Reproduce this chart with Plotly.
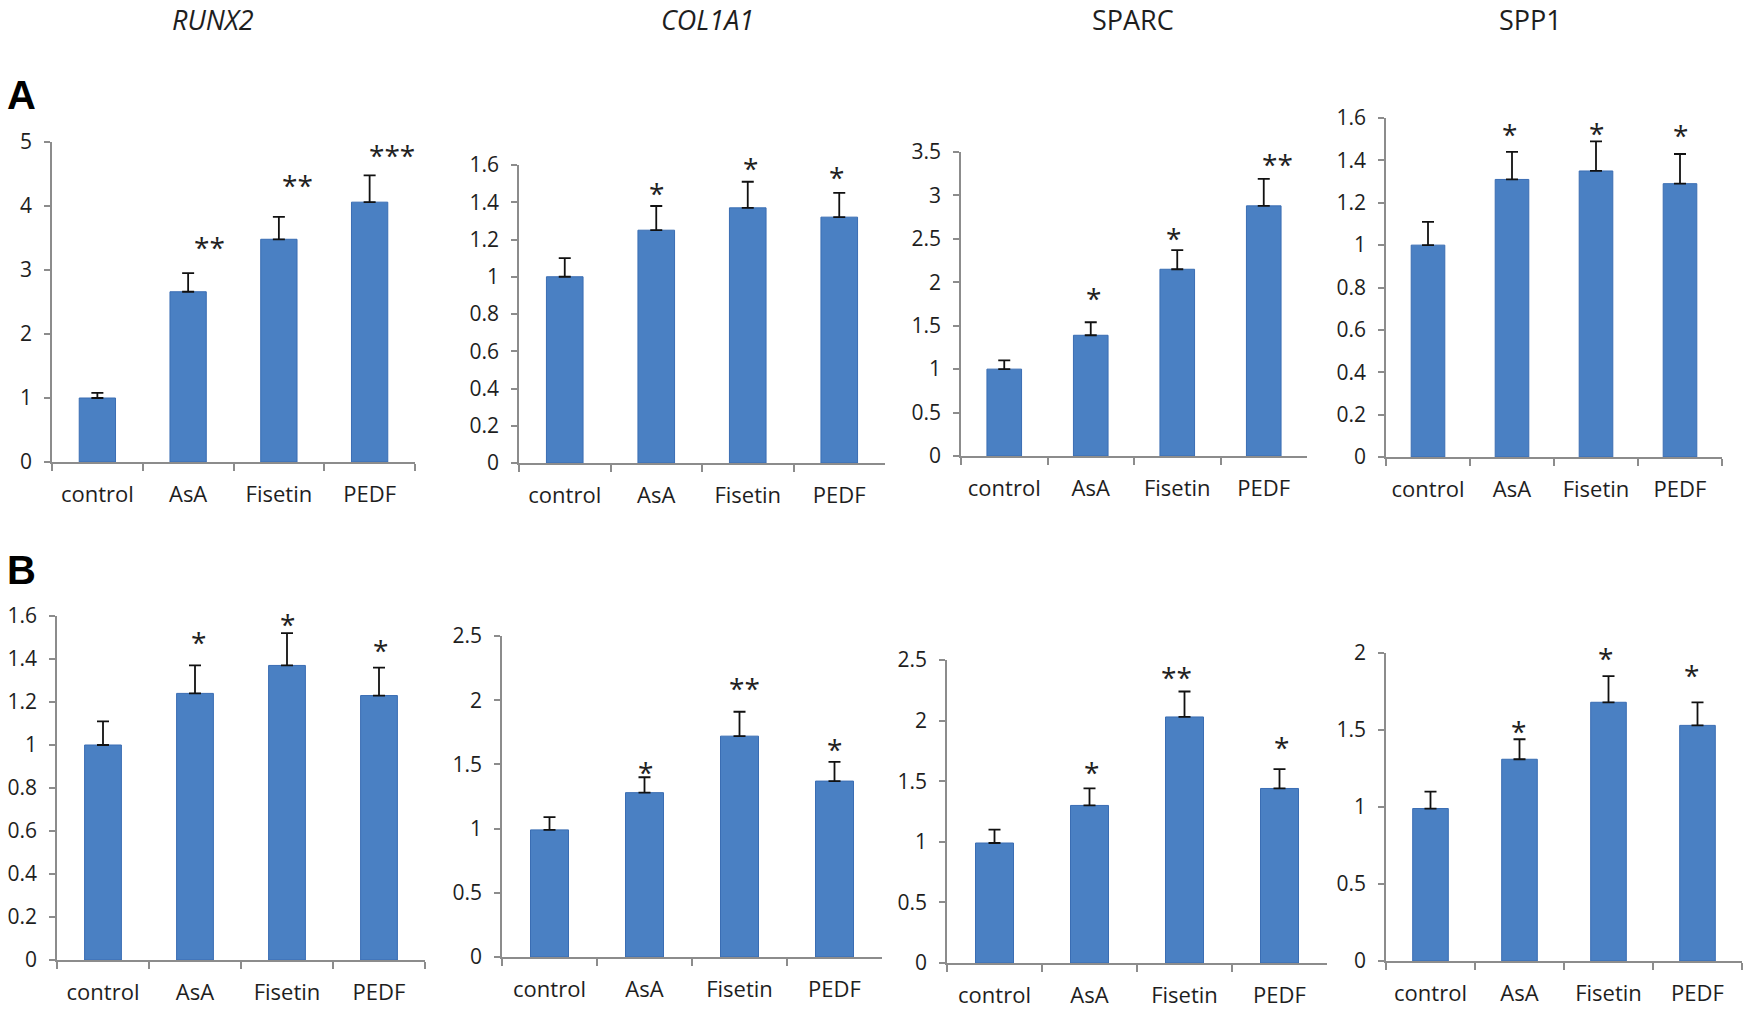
import plotly.graph_objects as go

W, H = 1748, 1009

# ---------------- data ----------------
categories = ["control", "AsA", "Fisetin", "PEDF"]

genes = ["RUNX2", "COL1A1", "SPARC", "SPP1"]
gene_italic = [True, True, False, False]

# Panel A
a_runx2 = [1.00, 2.66, 3.48, 4.06]
a_runx2_err = [0.08, 0.29, 0.35, 0.42]
a_runx2_sig = ["", "**", "**", "***"]

a_col1a1 = [1.00, 1.25, 1.37, 1.32]
a_col1a1_err = [0.10, 0.13, 0.14, 0.13]
a_col1a1_sig = ["", "*", "*", "*"]

a_sparc = [1.00, 1.39, 2.15, 2.88]
a_sparc_err = [0.10, 0.15, 0.22, 0.31]
a_sparc_sig = ["", "*", "*", "**"]

a_spp1 = [1.00, 1.31, 1.35, 1.29]
a_spp1_err = [0.11, 0.13, 0.14, 0.14]
a_spp1_sig = ["", "*", "*", "*"]

# Panel B
b_runx2 = [1.00, 1.24, 1.37, 1.23]
b_runx2_err = [0.11, 0.13, 0.15, 0.13]
b_runx2_sig = ["", "*", "*", "*"]

b_col1a1 = [0.99, 1.28, 1.72, 1.37]
b_col1a1_err = [0.10, 0.12, 0.19, 0.15]
b_col1a1_sig = ["", "*", "**", "*"]

b_sparc = [0.99, 1.30, 2.03, 1.44]
b_sparc_err = [0.11, 0.14, 0.21, 0.16]
b_sparc_sig = ["", "*", "**", "*"]

b_spp1 = [0.99, 1.31, 1.68, 1.53]
b_spp1_err = [0.11, 0.13, 0.17, 0.15]
b_spp1_sig = ["", "*", "*", "*"]

y_max = [5, 1.6, 3.5, 1.6, 1.6, 2.5, 2.5, 2.0]
y_step = [1, 0.2, 0.5, 0.2, 0.2, 0.5, 0.5, 0.5]

panels = [
    (a_runx2, a_runx2_err, a_runx2_sig),
    (a_col1a1, a_col1a1_err, a_col1a1_sig),
    (a_sparc, a_sparc_err, a_sparc_sig),
    (a_spp1, a_spp1_err, a_spp1_sig),
    (b_runx2, b_runx2_err, b_runx2_sig),
    (b_col1a1, b_col1a1_err, b_col1a1_sig),
    (b_sparc, b_sparc_err, b_sparc_sig),
    (b_spp1, b_spp1_err, b_spp1_sig),
]

# ---------------- layout / style ----------------
# plot boxes in pixels: x0, x1, y_top, y_zero
boxes = [
    (52, 415, 142, 462),
    (519, 885, 165, 463),
    (961, 1307, 152, 456),
    (1386, 1722, 118, 457),
    (57, 425, 616, 960),
    (502, 882, 636, 957),
    (947, 1327, 660, 963),
    (1386, 1742, 653, 961),
]
# star label pixel offsets (dx, gap above error bar)
star_dx = [
    [0, 21, 19, 22], [0, 0, 3, -3], [0, 3, -4, 14], [0, -3, 0, 0],
    [0, 3, 0, 1], [0, 1, 5, 0], [0, 2, -8, 2], [0, -1, -3, -6],
]
star_gap = [
    [0, 31, 37, 25], [0, 18, 19, 21], [0, 29, 17, 20], [0, 23, 13, 24],
    [0, 28, 14, 23], [0, 10, 29, 18], [0, 21, 20, 27], [0, 13, 23, 32],
]
title_x = [213, 707, 1133, 1530]

FONT = "Open Sans"
AXIS_COLOR = "#8c8c8c"
TEXT_COLOR = "#1e1e1e"
BAR_COLOR = "#4a80c3"
BAR_EDGE = "#3a6db3"

fig = go.Figure()
annotations = []
layout_axes = {}

for i, ((vals, errs, sigs), (x0, x1, yt, yz)) in enumerate(zip(panels, boxes)):
    n = i + 1
    xa = "x" if n == 1 else f"x{n}"
    ya = "y" if n == 1 else f"y{n}"
    fig.add_trace(go.Bar(
        x=categories, y=vals, xaxis=xa, yaxis=ya,
        marker=dict(color=BAR_COLOR, line=dict(color=BAR_EDGE, width=1)),
        error_y=dict(type="data", array=errs, arrayminus=[0] * len(errs),
                     symmetric=False, color="#111111", thickness=1.8, width=6),
        showlegend=False, hoverinfo="skip",
    ))
    xkey = "xaxis" if n == 1 else f"xaxis{n}"
    ykey = "yaxis" if n == 1 else f"yaxis{n}"
    layout_axes[xkey] = dict(
        domain=[x0 / W, x1 / W], anchor=ya, type="category",
        range=[-0.5, len(categories) - 0.5], automargin=False,
        showline=True, linecolor=AXIS_COLOR, linewidth=1.5,
        ticks="outside", tickson="boundaries", ticklen=7, tickcolor=AXIS_COLOR,
        tickwidth=1.5, showgrid=False, zeroline=False,
        tickfont=dict(family=FONT, size=22, color=TEXT_COLOR),
        ticklabelstandoff=12,
    )
    layout_axes[ykey] = dict(
        domain=[1 - yz / H, 1 - yt / H], anchor=xa, automargin=False,
        range=[0, y_max[i]], dtick=y_step[i], tick0=0,
        showline=True, linecolor=AXIS_COLOR, linewidth=1.5,
        ticks="outside", ticklen=6, tickcolor=AXIS_COLOR, tickwidth=1.5,
        showgrid=False, zeroline=False,
        tickfont=dict(family=FONT, size=21, color=TEXT_COLOR),
        ticklabelstandoff=8,
    )
    for j, s in enumerate(sigs):
        if not s:
            continue
        annotations.append(dict(
            x=categories[j], y=vals[j] + errs[j], xref=xa, yref=ya,
            text=s, showarrow=False, xanchor="center", yanchor="middle",
            xshift=star_dx[i][j], yshift=star_gap[i][j] - 5,
            font=dict(family=FONT, size=28, color="#222222"),
        ))

for g, it, tx in zip(genes, gene_italic, title_x):
    annotations.append(dict(
        x=tx / W, y=1 - 20 / H, xref="paper", yref="paper",
        text=f"<i>{g}</i>" if it else g, showarrow=False,
        xanchor="center", yanchor="middle",
        font=dict(family=FONT, size=27, color=TEXT_COLOR),
    ))

for letter, ly in (("A", 95), ("B", 570)):
    annotations.append(dict(
        x=21 / W, y=1 - ly / H, xref="paper", yref="paper",
        text=f"<b>{letter}</b>", showarrow=False,
        xanchor="center", yanchor="middle",
        font=dict(family="Liberation Sans", size=40, color="#000000"),
    ))

fig.update_layout(
    width=W, height=H,
    margin=dict(l=0, r=0, t=0, b=0, pad=0, autoexpand=False),
    paper_bgcolor="white", plot_bgcolor="white",
    bargap=0.6,
    annotations=annotations,
    **layout_axes,
)

fig.write_html(
    "out.html",
    config={"displayModeBar": False},
    post_script="document.body.style.margin='0';document.body.style.overflow='hidden';",
)
